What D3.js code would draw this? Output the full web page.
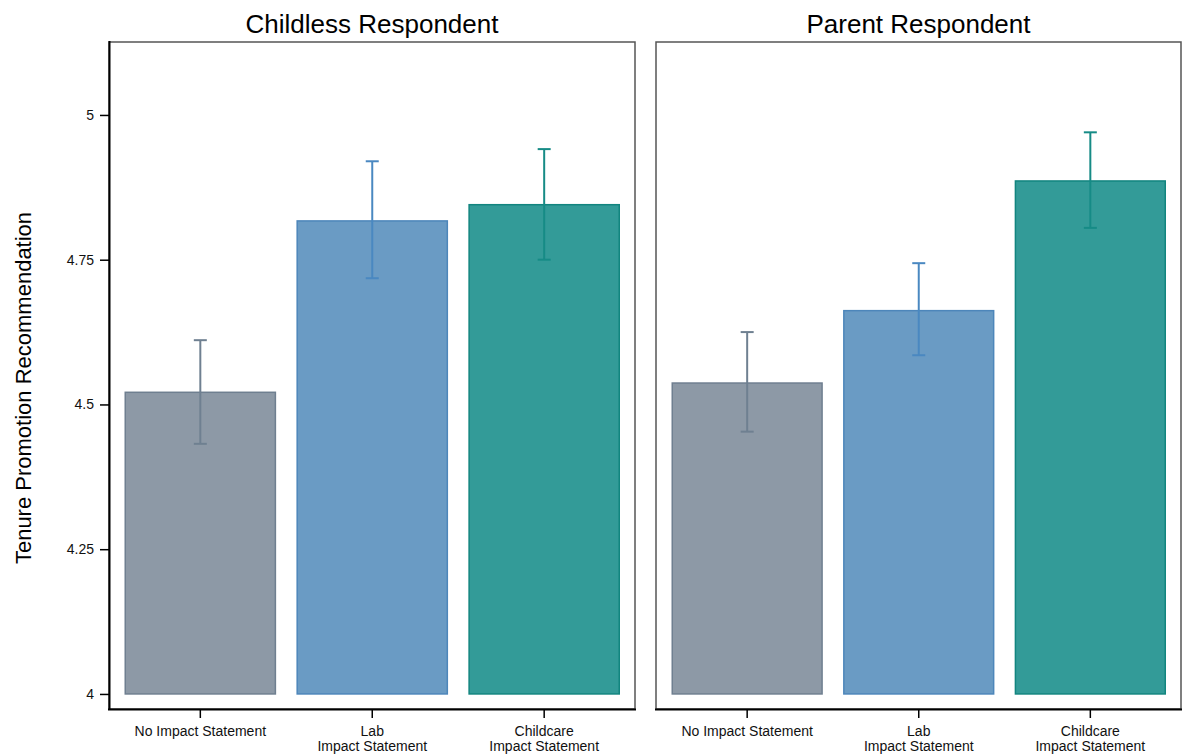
<!DOCTYPE html>
<html>
<head>
<meta charset="utf-8">
<script src="https://cdn.jsdelivr.net/npm/d3@7"></script>
<style>
  html, body { margin: 0; padding: 0; background: #fff; }
  svg { display: block; font-family: "Liberation Sans", Arial, Helvetica, sans-serif; }
</style>
</head>
<body>
<svg id="chart" width="1182" height="755"></svg>
<script>
// Panels, categories and estimates
const panels = ["Childless Respondent", "Parent Respondent"];
const categories = ["No Impact Statement", "Lab\nImpact Statement", "Childcare\nImpact Statement"];
const means = [
  [4.521, 4.817, 4.845],
  [4.537, 4.662, 4.886]
];
const lower = [
  [4.432, 4.718, 4.750],
  [4.453, 4.585, 4.805]
];
const upper = [
  [4.611, 4.920, 4.941],
  [4.625, 4.744, 4.970]
];
const yTicks = [4, 4.25, 4.5, 4.75, 5];
const yTickLabels = ["4", "4.25", "4.5", "4.75", "5"];
const yTitle = "Tenure Promotion Recommendation";

const fills = ["#8d99a6", "#6a9bc4", "#339b98"];
const strokes = ["#6f7f90", "#4d86ba", "#12857f"];
const errColors = ["#6f8091", "#4a88c1", "#168b86"];

const svg = d3.select("#chart");

const panelX = [109, 656];
const panelW = [526, 525];
const panelTop = 42, panelH = 667;

const y = d3.scaleLinear().domain([3.974, 5.126]).range([panelH, 0]);

panels.forEach((title, p) => {
  const g = svg.append("g").attr("transform", `translate(${panelX[p]},${panelTop})`);
  const w = panelW[p];

  const x = d3.scaleBand()
    .domain(categories)
    .range([15.5, w - 15])
    .paddingInner(0.118)
    .paddingOuter(0);

  // frame
  g.append("rect")
    .attr("x", 0).attr("y", 0).attr("width", w).attr("height", panelH)
    .attr("fill", "none").attr("stroke", "#555").attr("stroke-width", 1.5);

  // bars
  g.selectAll("rect.bar").data(categories).join("rect")
    .attr("class", "bar")
    .attr("x", d => x(d) + 0.75)
    .attr("width", x.bandwidth() - 1.5)
    .attr("y", (d, i) => y(means[p][i]))
    .attr("height", (d, i) => y(4) - y(means[p][i]))
    .attr("fill", (d, i) => fills[i])
    .attr("stroke", (d, i) => strokes[i])
    .attr("stroke-width", 1.5);

  // error bars
  const capHalf = 6.5;
  categories.forEach((c, i) => {
    const cx = x(c) + x.bandwidth() / 2;
    const eg = g.append("g").attr("stroke", errColors[i]).attr("stroke-width", 2).attr("fill", "none");
    eg.append("line").attr("x1", cx).attr("x2", cx).attr("y1", y(upper[p][i])).attr("y2", y(lower[p][i]));
    eg.append("line").attr("x1", cx - capHalf).attr("x2", cx + capHalf).attr("y1", y(upper[p][i])).attr("y2", y(upper[p][i]));
    eg.append("line").attr("x1", cx - capHalf).attr("x2", cx + capHalf).attr("y1", y(lower[p][i])).attr("y2", y(lower[p][i]));
  });

  // x axis
  const xAxis = g.append("g").attr("transform", `translate(0,${panelH})`)
    .call(d3.axisBottom(x).tickSize(9).tickSizeOuter(0).tickFormat(""));
  xAxis.select(".domain").attr("stroke", "#000").attr("stroke-width", 2)
    .attr("d", `M-1,0.5H${w + 1}`);
  xAxis.selectAll(".tick line").attr("stroke", "#000").attr("stroke-width", 1.5);
  xAxis.selectAll(".tick").each(function(d) {
    const lines = d.split("\n");
    const t = d3.select(this).append("text")
      .attr("fill", "#111").attr("font-size", 14).attr("text-anchor", "middle");
    lines.forEach((ln, k) => {
      t.append("tspan").attr("x", 0).attr("y", 27 + k * 15).text(ln);
    });
  });

  // y axis (left panel only)
  if (p === 0) {
    const yAxis = g.append("g")
      .call(d3.axisLeft(y).tickValues(yTicks).tickSize(9).tickSizeOuter(0)
        .tickFormat((d, i) => yTickLabels[i]));
    yAxis.select(".domain").attr("stroke", "#000").attr("stroke-width", 2)
      .attr("d", `M0.5,-1V${panelH + 1}`);
    yAxis.selectAll(".tick line").attr("stroke", "#000").attr("stroke-width", 1.5);
    yAxis.selectAll(".tick text").attr("font-size", 14).attr("fill", "#111")
      .attr("x", -15).attr("font-family", "Liberation Sans, Arial, sans-serif");
  }

  // panel title
  svg.append("text")
    .attr("x", panelX[p] + w / 2).attr("y", 33)
    .attr("text-anchor", "middle").attr("font-size", 26).attr("fill", "#000")
    .text(title);
});

// y axis title
svg.append("text")
  .attr("transform", "translate(31,388) rotate(-90)")
  .attr("text-anchor", "middle").attr("font-size", 22).attr("fill", "#000")
  .text(yTitle);
</script>
</body>
</html>
